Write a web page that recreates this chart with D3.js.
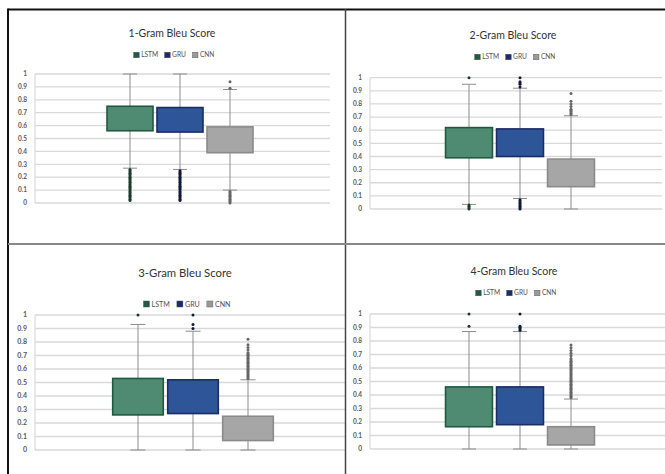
<!DOCTYPE html>
<html><head><meta charset="utf-8">
<script src="https://cdn.jsdelivr.net/npm/d3@7"></script>
<style>
html,body{margin:0;padding:0;background:#fff;}
svg{display:block;}
</style></head>
<body>
<svg id="chart" width="665" height="474"></svg>
<script>
// ---------------- DATA ----------------
const series = ["LSTM", "GRU", "CNN"];
const titles = ["1-Gram Bleu Score", "2-Gram Bleu Score", "3-Gram Bleu Score", "4-Gram Bleu Score"];
const yTicks = [0, 0.1, 0.2, 0.3, 0.4, 0.5, 0.6, 0.7, 0.8, 0.9, 1];
const yTickLabels = ["0", "0.1", "0.2", "0.3", "0.4", "0.5", "0.6", "0.7", "0.8", "0.9", "1"];

// [lower whisker, Q1, Q3, upper whisker] per series (LSTM, GRU, CNN)
const gram1Stats = [[0.27, 0.56, 0.75, 1.00], [0.26, 0.55, 0.74, 1.00], [0.10, 0.39, 0.59, 0.88]];
const gram2Stats = [[0.035, 0.39, 0.62, 0.95], [0.08, 0.40, 0.61, 0.92], [0.00, 0.17, 0.38, 0.71]];
const gram3Stats = [[0.00, 0.26, 0.53, 0.93], [0.00, 0.27, 0.52, 0.88], [0.00, 0.07, 0.25, 0.52]];
const gram4Stats = [[0.00, 0.165, 0.46, 0.87], [0.00, 0.18, 0.46, 0.87], [0.00, 0.03, 0.165, 0.37]];

// outlier points per series
const gram1Outliers = [
  [0.02,0.03,0.04,0.05,0.06,0.07,0.08,0.09,0.10,0.11,0.12,0.13,0.14,0.15,0.16,0.17,0.18,0.19,0.20,0.21,0.22,0.23,0.24,0.25,0.26],
  [0.02,0.03,0.04,0.05,0.06,0.07,0.08,0.09,0.10,0.11,0.12,0.13,0.14,0.15,0.16,0.17,0.18,0.19,0.20,0.21,0.22,0.23,0.24,0.25],
  [0.00,0.01,0.02,0.03,0.04,0.05,0.06,0.07,0.08,0.09,0.89,0.94]
];
const gram2Outliers = [
  [0.00,0.01,0.02,0.03,1.00],
  [0.00,0.01,0.02,0.03,0.04,0.05,0.06,0.07,0.93,0.95,0.96,0.97,1.00],
  [0.72,0.73,0.74,0.75,0.76,0.78,0.80,0.82,0.88]
];
const gram3Outliers = [
  [1.00],
  [0.90,0.93,1.00],
  [0.53,0.54,0.55,0.56,0.57,0.58,0.59,0.60,0.61,0.62,0.63,0.64,0.65,0.66,0.67,0.68,0.69,0.70,0.71,0.72,0.74,0.76,0.78,0.82]
];
const gram4Outliers = [
  [0.91,1.00],
  [0.88,0.89,0.90,0.91,1.00],
  [0.38,0.39,0.40,0.41,0.42,0.43,0.44,0.45,0.46,0.47,0.48,0.49,0.50,0.51,0.52,0.53,0.54,0.55,0.56,0.57,0.58,0.59,0.60,0.61,0.62,0.63,0.64,0.65,0.66,0.67,0.69,0.71,0.73,0.75,0.77]
];

// ---------------- STYLE / LAYOUT ----------------
const boxFill   = {LSTM: "#4f8a73", GRU: "#2e5597", CNN: "#a6a6a6"};
const boxStroke = {LSTM: "#1f5a40", GRU: "#1b2c66", CNN: "#8a8a8a"};
const legendFill = {LSTM: "#1e5b42", GRU: "#1a2a6c", CNN: "#9a9a9a"};
const dotFill   = {LSTM: "#1d3b2d", GRU: "#121a3a", CNN: "#666666"};

const panels = [
  {stats: gram1Stats, outliers: gram1Outliers, left: 35,  right: 330, top: 74,  bottom: 203, bx: [105, 255],   titleX: 172, titleY: 37,  legendY: 55,  s: 1.0},
  {stats: gram2Stats, outliers: gram2Outliers, left: 370, right: 662, top: 77.7,bottom: 209, bx: [443.5, 596.5], titleX: 513, titleY: 39,  legendY: 57,  s: 1.0},
  {stats: gram3Stats, outliers: gram3Outliers, left: 35,  right: 345, top: 315, bottom: 450, bx: [110.5, 275.5], titleX: 185, titleY: 277, legendY: 304, s: 1.08},
  {stats: gram4Stats, outliers: gram4Outliers, left: 370, right: 665, top: 314, bottom: 449, bx: [443.5, 596.5], titleX: 514, titleY: 275, legendY: 293, s: 1.0}
];

const svg = d3.select("#chart");
const font = "Lato, 'Open Sans', sans-serif";

panels.forEach((p, i) => {
  const g = svg.append("g");
  const y = d3.scaleLinear().domain([0, 1]).range([p.bottom, p.top]);
  const x = d3.scaleBand().domain(series).range(p.bx).paddingInner(0.08).paddingOuter(0.04);

  // gridlines
  g.selectAll("line.grid").data(yTicks).join("line")
    .attr("x1", p.left).attr("x2", p.right)
    .attr("y1", d => y(d)).attr("y2", d => y(d))
    .attr("stroke", "#d9d9d9").attr("stroke-width", 1.3);
  // left axis line
  g.append("line").attr("x1", p.left).attr("x2", p.left)
    .attr("y1", y(1)).attr("y2", y(0))
    .attr("stroke", "#d9d9d9").attr("stroke-width", 1.2);

  // y tick labels
  g.selectAll("text.tick").data(yTicks).join("text")
    .attr("x", p.left - 8).attr("y", d => y(d)).attr("dy", "0.35em")
    .attr("text-anchor", "end")
    .attr("font-family", font).attr("font-weight", "bold")
    .attr("font-size", 6.5 * p.s).attr("fill", "#595959")
    .text((d, j) => yTickLabels[j]);

  // title
  g.append("text").attr("x", p.titleX).attr("y", p.titleY)
    .attr("text-anchor", "middle").attr("font-family", font)
    .attr("font-size", 10.5 * p.s).attr("fill", "#333333")
    .text(titles[i]);

  // legend
  const lg = g.append("g");
  let cx = 0;
  series.forEach(sn => {
    const it = lg.append("g").attr("transform", `translate(${cx},0)`);
    it.append("rect").attr("x", 0).attr("y", -2.8 * p.s).attr("width", 5.6 * p.s).attr("height", 5.6 * p.s)
      .attr("fill", legendFill[sn]).attr("stroke", "#555").attr("stroke-width", 0.4);
    const t = it.append("text").attr("x", 7.5 * p.s).attr("y", 0).attr("dy", "0.35em")
      .attr("font-family", font).attr("font-size", 6.6 * p.s).attr("fill", "#505050").text(sn);
    cx += 7.5 * p.s + t.node().getComputedTextLength() + 6.5 * p.s;
  });
  const lw = cx - 6.5 * p.s;
  lg.attr("transform", `translate(${p.titleX + 2 - lw / 2},${p.legendY})`);

  // boxes
  series.forEach((sn, k) => {
    const [lo, q1, q3, hi] = p.stats[k];
    const cxm = x(sn) + x.bandwidth() / 2;
    const capW = 7 * p.s;
    // whisker line
    g.append("line").attr("x1", cxm).attr("x2", cxm).attr("y1", y(hi)).attr("y2", y(lo))
      .attr("stroke", "#8c8c8c").attr("stroke-width", 1);
    [lo, hi].forEach(v => g.append("line")
      .attr("x1", cxm - capW).attr("x2", cxm + capW).attr("y1", y(v)).attr("y2", y(v))
      .attr("stroke", "#8c8c8c").attr("stroke-width", 1));
    // box
    g.append("rect").attr("x", x(sn)).attr("width", x.bandwidth())
      .attr("y", y(q3)).attr("height", y(q1) - y(q3))
      .attr("fill", boxFill[sn]).attr("stroke", boxStroke[sn]).attr("stroke-width", 1.6);
    // outliers
    g.selectAll(null).data(p.outliers[k]).join("circle")
      .attr("cx", cxm).attr("cy", d => y(d)).attr("r", 1.5)
      .attr("fill", dotFill[sn]);
  });
});

// frame
svg.append("line").attr("x1", 8).attr("x2", 665).attr("y1", 9.5).attr("y2", 9.5).attr("stroke", "#111").attr("stroke-width", 2);
svg.append("line").attr("x1", 8).attr("x2", 8).attr("y1", 8.5).attr("y2", 474).attr("stroke", "#111").attr("stroke-width", 2);
svg.append("line").attr("x1", 345.5).attr("x2", 345.5).attr("y1", 9).attr("y2", 474).attr("stroke", "#444").attr("stroke-width", 1.5);
svg.append("line").attr("x1", 8).attr("x2", 665).attr("y1", 244).attr("y2", 244).attr("stroke", "#888").attr("stroke-width", 2);
</script>
</body></html>
